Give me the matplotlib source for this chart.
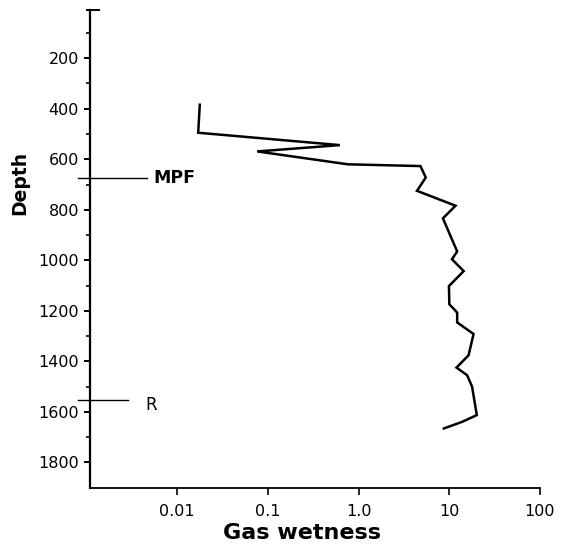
import numpy as np
import matplotlib
matplotlib.use("Agg")
import matplotlib.pyplot as plt
from matplotlib.ticker import FixedLocator, FixedFormatter, NullLocator

# Gas wetness profile
depth = [384, 495, 544, 569, 620, 627, 672, 725, 784, 834, 965, 996, 1043,
         1102, 1174, 1207, 1246, 1292, 1376, 1425, 1455, 1500, 1613, 1640, 1666]
wetness = [0.0177, 0.017, 0.62, 0.076, 0.76, 4.8, 5.5, 4.4, 11.7, 8.5, 12.2,
           10.7, 14.4, 9.9, 10.0, 12.2, 12.2, 18.5, 16.3, 12.0, 15.7, 17.8,
           20.1, 13.8, 8.7]

x_ticks = [0.01, 0.1, 1, 10, 100]
x_tick_labels = ["0.01", "0.1", "1.0", "10", "100"]
y_major = [200, 400, 600, 800, 1000, 1200, 1400, 1600, 1800]
y_minor = [100, 300, 500, 700, 900, 1100, 1300, 1500, 1700]

markers = [("MPF", 675), ("R", 1554)]

fig = plt.figure(figsize=(5.68, 5.47), dpi=100)
ax = fig.add_axes([0.1585, 0.1073, 0.7922, 0.8744])

ax.plot(wetness, depth, color="black", linewidth=1.8, solid_joinstyle="miter")

ax.set_xscale("log")
ax.set_xlim(0.00109, 100)
ax.set_ylim(1903, 9)

for s in ("top", "right"):
    ax.spines[s].set_visible(False)
ax.spines["left"].set_linewidth(1.6)
ax.spines["bottom"].set_linewidth(1.3)

ax.xaxis.set_major_locator(FixedLocator(x_ticks))
ax.xaxis.set_major_formatter(FixedFormatter(x_tick_labels))
ax.xaxis.set_minor_locator(NullLocator())
ax.set_yticks(y_major)
ax.set_yticks(y_minor, minor=True)

ax.tick_params(axis="x", which="major", direction="out", length=5, width=1.2,
               labelsize=11.5, pad=6)
ax.tick_params(axis="y", which="major", direction="out", length=4, width=1.4,
               labelsize=11.5, pad=4)
ax.tick_params(axis="y", which="minor", direction="out", length=3, width=1.2)

# cap at the top of the depth axis
ax.plot([-0.007, 0.02], [1, 1], transform=ax.transAxes, color="black",
        linewidth=1.4, clip_on=False)

# horizon markers
for name, d in markers:
    ax.plot([-0.027, 0.127 if name == "MPF" else 0.085], [d, d], color="black",
            linewidth=1.0, transform=ax.get_yaxis_transform(), clip_on=False)
ax.text(0.14, 675, "MPF", transform=ax.get_yaxis_transform(), fontsize=12.5,
        fontweight="bold", ha="left", va="center")
ax.text(0.122, 1575, "R", transform=ax.get_yaxis_transform(), fontsize=12,
        ha="left", va="center")

ax.set_ylabel("Depth", fontsize=13.5, fontweight="bold")
ax.yaxis.set_label_coords(-0.156, 0.638)
ax.yaxis.label.set_va("center")
ax.set_xlabel("Gas wetness", fontsize=16, fontweight="bold")
ax.xaxis.set_label_coords(0.47, -0.093)
ax.xaxis.label.set_va("center")

fig.savefig("out.png", dpi=100)
